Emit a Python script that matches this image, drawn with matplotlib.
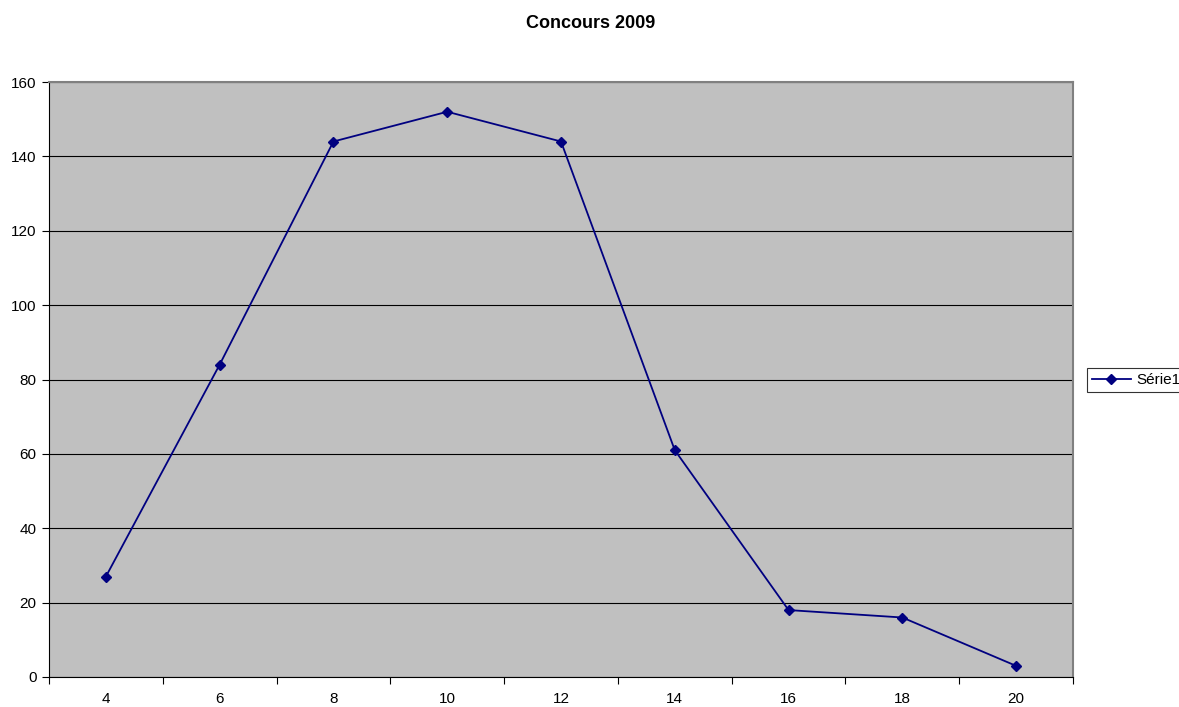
import matplotlib
matplotlib.use('Agg')
import matplotlib.pyplot as plt

plt.rcParams['font.family'] = ['Liberation Sans', 'DejaVu Sans']

# data
notes = [4, 6, 8, 10, 12, 14, 16, 18, 20]
effectifs = [27, 84, 144, 152, 144, 61, 18, 16, 3]
y_ticks = [0, 20, 40, 60, 80, 100, 120, 140, 160]

W, H = 1179, 707
fig = plt.figure(figsize=(W / 100, H / 100), dpi=100)
fig.patch.set_facecolor('white')

# plot area in pixels: left 49, right 1073, top 82, bottom 677
ax = fig.add_axes([49 / W, (H - 677) / H, 1024 / W, 595 / H])
ax.set_facecolor('#C0C0C0')

pos = list(range(len(notes)))
line, = ax.plot(pos, effectifs, color='#000080', linewidth=1.3,
                marker='D', markersize=5.5, label='Série1', zorder=3)

ax.set_xlim(-0.5, len(notes) - 0.5)
ax.set_ylim(0, 160)
ax.set_yticks(y_ticks)
ax.set_yticklabels([str(v) for v in y_ticks], fontsize=11)
ax.yaxis.grid(True, color='black', linewidth=0.8)
ax.set_axisbelow(True)

# category labels centred, tick marks between categories
ax.set_xticks([p + 0.5 for p in pos[:-1]] + [-0.5, len(notes) - 0.5])
ax.set_xticklabels([])
ax.set_xticks(pos, minor=True)
ax.set_xticklabels([str(n) for n in notes], minor=True, fontsize=11)
ax.tick_params(axis='x', which='major', length=5, direction='out', color='black')
ax.tick_params(axis='x', which='minor', length=0, pad=11)
ax.tick_params(axis='y', length=5, direction='out', color='black', pad=4)

ax.spines['left'].set_color('black')
ax.spines['bottom'].set_color('black')
ax.spines['top'].set_color('#808080')
ax.spines['right'].set_color('#808080')
ax.spines['top'].set_linewidth(1.5)
ax.spines['right'].set_linewidth(1.5)

fig.text(591 / W, 1 - 24 / H, 'Concours 2009', ha='center', va='center',
         fontsize=13, fontweight='bold')

leg = fig.legend(handles=[line], loc='center left',
                 bbox_to_anchor=(1087 / W, 1 - 380 / H), fontsize=11,
                 frameon=True, fancybox=False, edgecolor='black',
                 handlelength=2.6, handletextpad=0.3, borderpad=0.3,
                 borderaxespad=0)
leg.get_frame().set_linewidth(0.8)

fig.savefig('out.png', dpi=100)
